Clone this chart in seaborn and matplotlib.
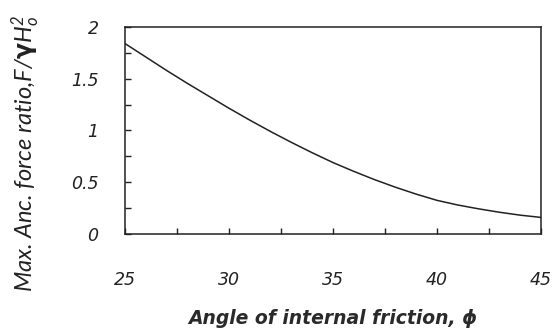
import matplotlib
matplotlib.use("Agg")
import matplotlib.pyplot as plt
import seaborn as sns
import pandas as pd
from matplotlib.ticker import MultipleLocator

# Angle of internal friction (degrees) and maximum anchor force ratio
phi = [25, 26, 27, 28, 29, 30, 31, 32, 33, 34, 35,
       36, 37, 38, 39, 40, 41, 42, 43, 44, 45]
force_ratio = [1.84, 1.71, 1.58, 1.455, 1.335, 1.215, 1.10, 0.99, 0.885, 0.785, 0.69,
               0.605, 0.525, 0.452, 0.385, 0.325, 0.28, 0.243, 0.21, 0.182, 0.16]

x_ticks = [25, 30, 35, 40, 45]
y_ticks = [0, 0.5, 1, 1.5, 2]
y_tick_labels = ["0", "0.5", "1", "1.5", "2"]

df = pd.DataFrame({"phi": phi, "ratio": force_ratio})

sns.set_theme(style="white")
plt.rcParams["font.family"] = ["DejaVu Sans"]
plt.rcParams["mathtext.fontset"] = "custom"
plt.rcParams["mathtext.it"] = "Lato:italic"
plt.rcParams["mathtext.rm"] = "Lato:italic"
plt.rcParams["mathtext.bf"] = "DejaVu Sans:bold"

INK = "#222222"

fig = plt.figure(figsize=(5.54, 3.29), dpi=100)
ax = fig.add_axes([0.2256, 0.2888, 0.7509, 0.6292])

sns.lineplot(data=df, x="phi", y="ratio", ax=ax, color=INK, linewidth=1.1)

ax.set_xlim(25, 45)
ax.set_ylim(0, 2)
ax.set_xticks(x_ticks)
ax.set_xticklabels([str(v) for v in x_ticks], fontstyle="italic", fontsize=12.5)
ax.set_yticks(y_ticks)
ax.set_yticklabels(y_tick_labels, fontstyle="italic", fontsize=12.5)
ax.xaxis.set_minor_locator(MultipleLocator(2.5))
ax.yaxis.set_minor_locator(MultipleLocator(0.25))

ax.tick_params(axis="both", which="both", direction="in", length=4.5, width=1,
               color=INK, labelcolor=INK, bottom=True, left=True,
               top=False, right=False)
ax.tick_params(axis="x", which="major", pad=27)
ax.tick_params(axis="y", which="major", pad=19)

for s in ax.spines.values():
    s.set_color(INK)
    s.set_linewidth(1.1)

ax.set_xlabel("Angle of internal friction, \u03d5", fontfamily=["DejaVu Sans"],
              fontstyle="italic", fontweight="bold", fontsize=13.5, color="#2a2a2a")
ax.xaxis.set_label_coords(0.5, -0.36)
ax.set_ylabel(r"Max. Anc. force ratio,F/$\mathbf{\gamma}$H$_o^{2}$",
              fontfamily=["Lato", "DejaVu Sans"], fontstyle="italic",
              fontsize=17, color=INK)
ax.yaxis.set_label_coords(-0.20, 0.39)

fig.savefig("out.png", dpi=100)
